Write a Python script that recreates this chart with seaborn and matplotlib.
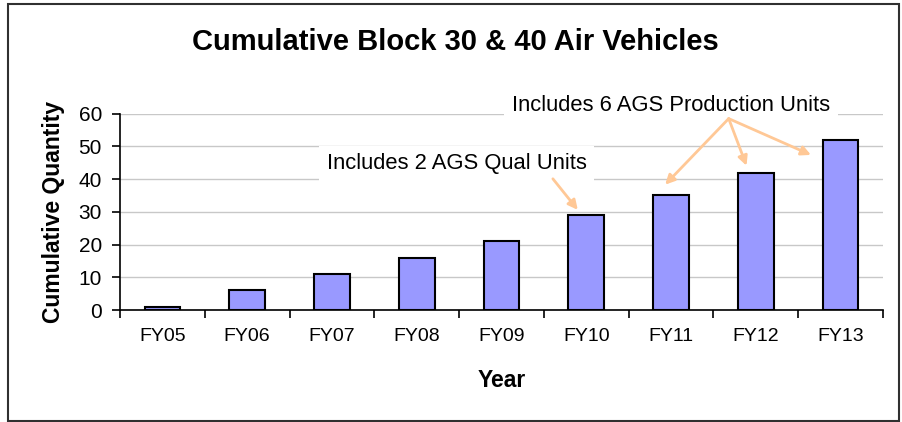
import numpy as np
import pandas as pd
import matplotlib
matplotlib.use('Agg')
import matplotlib.pyplot as plt
from matplotlib.patches import Rectangle
import seaborn as sns

# Dados do gráfico
anos = ['FY05', 'FY06', 'FY07', 'FY08', 'FY09', 'FY10', 'FY11', 'FY12', 'FY13']
quantidade = [1, 6, 11, 16, 21, 29, 35, 42, 52]
y_ticks = [0, 10, 20, 30, 40, 50, 60]

df = pd.DataFrame({'ano': anos, 'qtd': quantidade})

sns.set_theme(style='white')
plt.rcParams['font.family'] = ['Liberation Sans', 'DejaVu Sans']

fig = plt.figure(figsize=(9.03, 4.22), dpi=100)
ax = fig.add_axes([120 / 903, 1 - 310 / 422, 763 / 903, 196.3 / 422])

sns.barplot(data=df, x='ano', y='qtd', color='#9999FF', saturation=1,
            edgecolor='black', linewidth=1.5, width=0.42, ax=ax)

ax.set_ylim(0, 60)
ax.set_xlim(-0.5, len(anos) - 0.5)
ax.set_yticks(y_ticks)
ax.set_axisbelow(True)
ax.yaxis.grid(True, color='#C8C8C8', linewidth=1)
ax.xaxis.grid(False)

for s in ['top', 'right']:
    ax.spines[s].set_visible(False)
for s in ['left', 'bottom']:
    ax.spines[s].set_color('black')
    ax.spines[s].set_linewidth(1.2)

# ticks do eixo x entre as categorias
ax.set_xticks(np.arange(-0.5, len(anos), 1), minor=True)
ax.tick_params(axis='x', which='major', length=0, pad=13, labelsize=14, colors='black')
ax.tick_params(axis='x', which='minor', bottom=True, length=6, width=1.2, color='black', direction='out')
ax.tick_params(axis='y', which='major', left=True, length=6, width=1.2, color='black',
               direction='out', pad=7, labelsize=15, labelcolor='black')

ax.set_xlabel('Year', fontsize=16.5, fontweight='bold', color='black')
ax.set_ylabel('Cumulative Quantity', fontsize=16.5, fontweight='bold', color='black')
ax.xaxis.set_label_coords(0.5, -0.3)
ax.yaxis.set_label_coords(-0.072, 0.5)

fig.text(455 / 903, 1 - 42 / 422, 'Cumulative Block 30 & 40 Air Vehicles',
         ha='center', va='center', fontsize=21, fontweight='bold', color='black')

# Anotações
cor_seta = '#FFC896'
caixa = dict(boxstyle='square,pad=0.35', fc='white', ec='none')
ax.text(3.47, 44.7, 'Includes 2 AGS Qual Units', ha='center', va='center',
        fontsize=15.8, color='black', bbox=caixa, zorder=4)
ax.annotate('', xy=(4.90, 30.6), xytext=(4.606, 40.1),
            arrowprops=dict(arrowstyle='-|>', color=cor_seta, lw=2, mutation_scale=14,
                            shrinkA=0, shrinkB=0), zorder=5)

ax.text(6.0, 62.4, 'Includes 6 AGS Production Units', ha='center', va='center',
        fontsize=15.8, color='black', bbox=caixa, zorder=4, clip_on=False)
for alvo in [(5.93, 38.3), (6.89, 44.1), (7.65, 47.4)]:
    ax.annotate('', xy=alvo, xytext=(6.68, 58.5),
                arrowprops=dict(arrowstyle='-|>', color=cor_seta, lw=2, mutation_scale=14,
                                shrinkA=0, shrinkB=0), zorder=5)

# Moldura externa
fig.patches.append(Rectangle((8 / 903, 1 / 422), 891 / 903, 417 / 422,
                             transform=fig.transFigure, fill=False,
                             edgecolor='#303030', linewidth=1.5))

plt.savefig('out.png', dpi=100)
